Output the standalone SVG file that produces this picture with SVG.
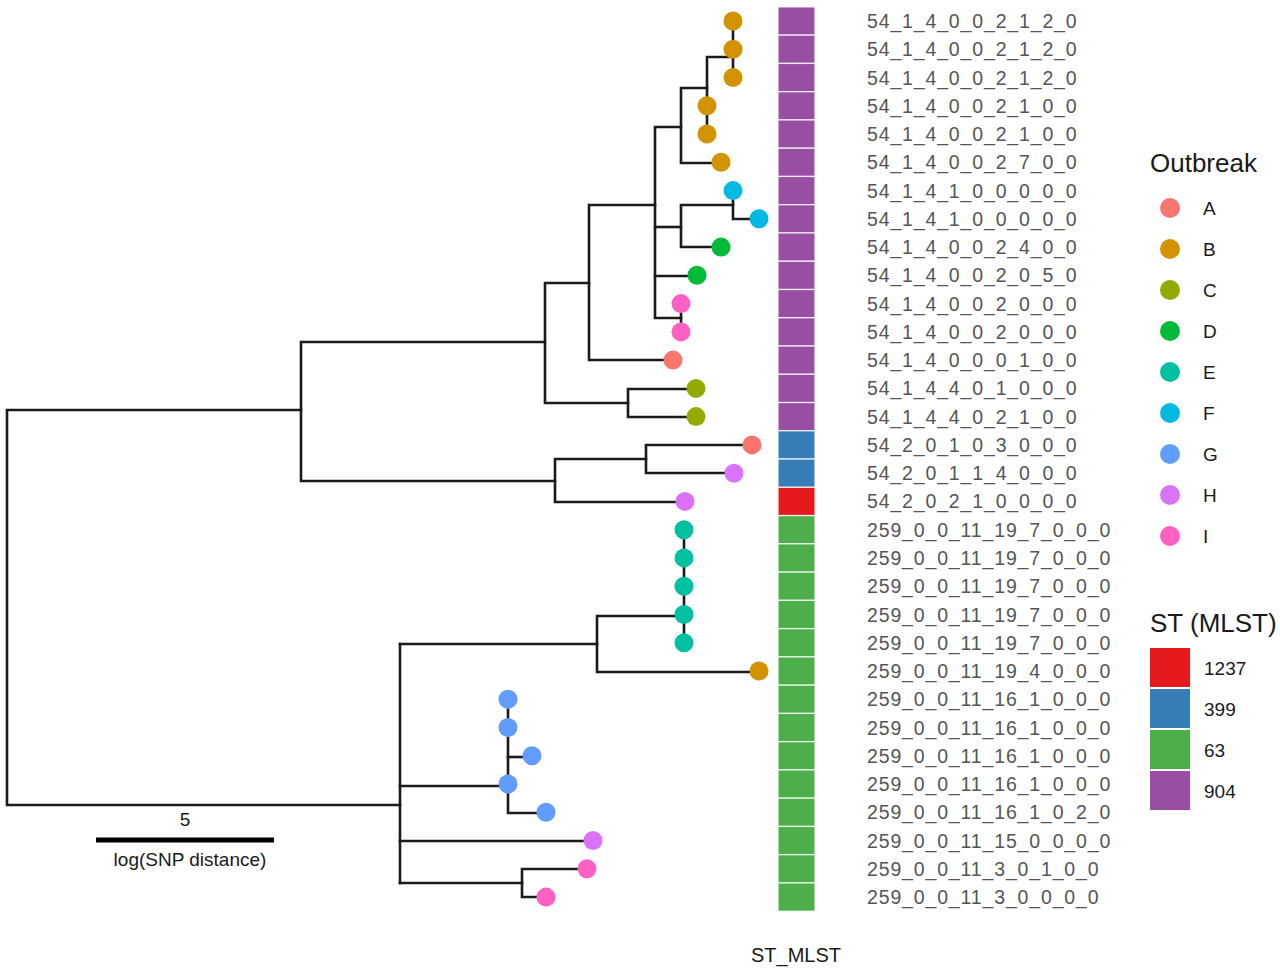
<svg xmlns="http://www.w3.org/2000/svg" width="1280" height="970" viewBox="0 0 1280 970">
<style>
.br{fill:none;stroke:#1a1a1a;stroke-width:2.6;stroke-linecap:square}
.lab{font-family:"Liberation Sans",Arial,sans-serif;font-size:19.5px;fill:#555;letter-spacing:0.85px}
.lg{font-family:"Liberation Sans",Arial,sans-serif;font-size:19px;fill:#1a1a1a}
.lt{font-family:"Liberation Sans",Arial,sans-serif;font-size:26px;fill:#1a1a1a}
.A{fill:#F8766D}.B{fill:#D39200}.C{fill:#93AA00}.D{fill:#00BA38}.E{fill:#00C19F}.F{fill:#00B9E3}.G{fill:#619CFF}.H{fill:#DB72FB}.I{fill:#FF61C3}
.t{stroke:#fff;stroke-width:1.3;stroke-opacity:0.8}
.p{fill:#984EA3}.bl{fill:#377EB8}.r{fill:#E41A1C}.g{fill:#4DAF4A}
</style>
<rect width="1280" height="970" fill="#fff"/>
<g id="connectors">
<path class="br" d="M301,410 H7 V805 H400"/>
<path class="br" d="M545,342 H301 V481 H555"/>
<path class="br" d="M589,283 H545 V403 H628"/>
<path class="br" d="M655,205 H589 V360 H673"/>
<path class="br" d="M681,127 H655 V318 H681"/>
<path class="br" d="M655,227 H681"/>
<path class="br" d="M655,276 H697"/>
<path class="br" d="M707,88 H681 V163 H721"/>
<path class="br" d="M733,57 H707 V134"/>
<path class="br" d="M733,21 V78"/>
<path class="br" d="M733,205 H681 V247 H721"/>
<path class="br" d="M733,191 V219 H759"/>
<path class="br" d="M681,304 V332"/>
<path class="br" d="M696,389 H628 V417 H696"/>
<path class="br" d="M646,459 H555 V502 H685"/>
<path class="br" d="M752,445 H646 V473 H734"/>
<path class="br" d="M400,644 V883"/>
<path class="br" d="M400,644 H597"/>
<path class="br" d="M400,786 H508"/>
<path class="br" d="M400,841 H593"/>
<path class="br" d="M400,883 H522"/>
<path class="br" d="M684,616 H597 V672 H759"/>
<path class="br" d="M684,530 V643"/>
<path class="br" d="M508,700 V813 H546"/>
<path class="br" d="M508,757 H532"/>
<path class="br" d="M587,869 H522 V897 H546"/>
</g>
<g id="tips">
<g id="tip1"><circle class="B" cx="733" cy="21" r="9.5"/></g>
<g id="tip2"><circle class="B" cx="733" cy="49.3" r="9.5"/></g>
<g id="tip3"><circle class="B" cx="733" cy="77.5" r="9.5"/></g>
<g id="tip4"><circle class="B" cx="707" cy="105.8" r="9.5"/></g>
<g id="tip5"><circle class="B" cx="707" cy="134" r="9.5"/></g>
<g id="tip6"><circle class="B" cx="721" cy="162.3" r="9.5"/></g>
<g id="tip7"><circle class="F" cx="733" cy="190.6" r="9.5"/></g>
<g id="tip8"><circle class="F" cx="759" cy="218.8" r="9.5"/></g>
<g id="tip9"><circle class="D" cx="721" cy="247.1" r="9.5"/></g>
<g id="tip10"><circle class="D" cx="697" cy="275.3" r="9.5"/></g>
<g id="tip11"><circle class="I" cx="681" cy="303.6" r="9.5"/></g>
<g id="tip12"><circle class="I" cx="681" cy="331.9" r="9.5"/></g>
<g id="tip13"><circle class="A" cx="673" cy="360.1" r="9.5"/></g>
<g id="tip14"><circle class="C" cx="696" cy="388.4" r="9.5"/></g>
<g id="tip15"><circle class="C" cx="696" cy="416.6" r="9.5"/></g>
<g id="tip16"><circle class="A" cx="752" cy="444.9" r="9.5"/></g>
<g id="tip17"><circle class="H" cx="734" cy="473.2" r="9.5"/></g>
<g id="tip18"><circle class="H" cx="685" cy="501.4" r="9.5"/></g>
<g id="tip19"><circle class="E" cx="684" cy="529.7" r="9.5"/></g>
<g id="tip20"><circle class="E" cx="684" cy="557.9" r="9.5"/></g>
<g id="tip21"><circle class="E" cx="684" cy="586.2" r="9.5"/></g>
<g id="tip22"><circle class="E" cx="684" cy="614.5" r="9.5"/></g>
<g id="tip23"><circle class="E" cx="684" cy="642.7" r="9.5"/></g>
<g id="tip24"><circle class="B" cx="759" cy="671" r="9.5"/></g>
<g id="tip25"><circle class="G" cx="508" cy="699.2" r="9.5"/></g>
<g id="tip26"><circle class="G" cx="508" cy="727.5" r="9.5"/></g>
<g id="tip27"><circle class="G" cx="532" cy="755.8" r="9.5"/></g>
<g id="tip28"><circle class="G" cx="508" cy="784" r="9.5"/></g>
<g id="tip29"><circle class="G" cx="546" cy="812.3" r="9.5"/></g>
<g id="tip30"><circle class="H" cx="593" cy="840.5" r="9.5"/></g>
<g id="tip31"><circle class="I" cx="587" cy="868.8" r="9.5"/></g>
<g id="tip32"><circle class="I" cx="546" cy="897.1" r="9.5"/></g>
</g>
<g id="tiles">
<rect class="p t" x="778" y="6.9" width="37" height="28.26"/>
<rect class="p t" x="778" y="35.16" width="37" height="28.26"/>
<rect class="p t" x="778" y="63.42" width="37" height="28.26"/>
<rect class="p t" x="778" y="91.68" width="37" height="28.26"/>
<rect class="p t" x="778" y="119.94" width="37" height="28.26"/>
<rect class="p t" x="778" y="148.2" width="37" height="28.26"/>
<rect class="p t" x="778" y="176.46" width="37" height="28.26"/>
<rect class="p t" x="778" y="204.72" width="37" height="28.26"/>
<rect class="p t" x="778" y="232.98" width="37" height="28.26"/>
<rect class="p t" x="778" y="261.24" width="37" height="28.26"/>
<rect class="p t" x="778" y="289.5" width="37" height="28.26"/>
<rect class="p t" x="778" y="317.76" width="37" height="28.26"/>
<rect class="p t" x="778" y="346.02" width="37" height="28.26"/>
<rect class="p t" x="778" y="374.28" width="37" height="28.26"/>
<rect class="p t" x="778" y="402.54" width="37" height="28.26"/>
<rect class="bl t" x="778" y="430.8" width="37" height="28.26"/>
<rect class="bl t" x="778" y="459.06" width="37" height="28.26"/>
<rect class="r t" x="778" y="487.32" width="37" height="28.26"/>
<rect class="g t" x="778" y="515.58" width="37" height="28.26"/>
<rect class="g t" x="778" y="543.84" width="37" height="28.26"/>
<rect class="g t" x="778" y="572.1" width="37" height="28.26"/>
<rect class="g t" x="778" y="600.36" width="37" height="28.26"/>
<rect class="g t" x="778" y="628.62" width="37" height="28.26"/>
<rect class="g t" x="778" y="656.88" width="37" height="28.26"/>
<rect class="g t" x="778" y="685.14" width="37" height="28.26"/>
<rect class="g t" x="778" y="713.4" width="37" height="28.26"/>
<rect class="g t" x="778" y="741.66" width="37" height="28.26"/>
<rect class="g t" x="778" y="769.92" width="37" height="28.26"/>
<rect class="g t" x="778" y="798.18" width="37" height="28.26"/>
<rect class="g t" x="778" y="826.44" width="37" height="28.26"/>
<rect class="g t" x="778" y="854.7" width="37" height="28.26"/>
<rect class="g t" x="778" y="882.96" width="37" height="28.26"/>
</g>
<g id="labels">
<text class="lab" x="867" y="28">54_1_4_0_0_2_1_2_0</text>
<text class="lab" x="867" y="56.3">54_1_4_0_0_2_1_2_0</text>
<text class="lab" x="867" y="84.5">54_1_4_0_0_2_1_2_0</text>
<text class="lab" x="867" y="112.8">54_1_4_0_0_2_1_0_0</text>
<text class="lab" x="867" y="141">54_1_4_0_0_2_1_0_0</text>
<text class="lab" x="867" y="169.3">54_1_4_0_0_2_7_0_0</text>
<text class="lab" x="867" y="197.6">54_1_4_1_0_0_0_0_0</text>
<text class="lab" x="867" y="225.8">54_1_4_1_0_0_0_0_0</text>
<text class="lab" x="867" y="254.1">54_1_4_0_0_2_4_0_0</text>
<text class="lab" x="867" y="282.3">54_1_4_0_0_2_0_5_0</text>
<text class="lab" x="867" y="310.6">54_1_4_0_0_2_0_0_0</text>
<text class="lab" x="867" y="338.9">54_1_4_0_0_2_0_0_0</text>
<text class="lab" x="867" y="367.1">54_1_4_0_0_0_1_0_0</text>
<text class="lab" x="867" y="395.4">54_1_4_4_0_1_0_0_0</text>
<text class="lab" x="867" y="423.6">54_1_4_4_0_2_1_0_0</text>
<text class="lab" x="867" y="451.9">54_2_0_1_0_3_0_0_0</text>
<text class="lab" x="867" y="480.2">54_2_0_1_1_4_0_0_0</text>
<text class="lab" x="867" y="508.4">54_2_0_2_1_0_0_0_0</text>
<text class="lab" x="867" y="536.7">259_0_0_11_19_7_0_0_0</text>
<text class="lab" x="867" y="564.9">259_0_0_11_19_7_0_0_0</text>
<text class="lab" x="867" y="593.2">259_0_0_11_19_7_0_0_0</text>
<text class="lab" x="867" y="621.5">259_0_0_11_19_7_0_0_0</text>
<text class="lab" x="867" y="649.7">259_0_0_11_19_7_0_0_0</text>
<text class="lab" x="867" y="678">259_0_0_11_19_4_0_0_0</text>
<text class="lab" x="867" y="706.2">259_0_0_11_16_1_0_0_0</text>
<text class="lab" x="867" y="734.5">259_0_0_11_16_1_0_0_0</text>
<text class="lab" x="867" y="762.8">259_0_0_11_16_1_0_0_0</text>
<text class="lab" x="867" y="791">259_0_0_11_16_1_0_0_0</text>
<text class="lab" x="867" y="819.3">259_0_0_11_16_1_0_2_0</text>
<text class="lab" x="867" y="847.5">259_0_0_11_15_0_0_0_0</text>
<text class="lab" x="867" y="875.8">259_0_0_11_3_0_1_0_0</text>
<text class="lab" x="867" y="904.1">259_0_0_11_3_0_0_0_0</text>
</g>
<g id="scalebar">
<rect x="96" y="837.5" width="178" height="5" fill="#000"/>
<text x="185" y="826" text-anchor="middle" font-family="Liberation Sans,Arial,sans-serif" font-size="19" fill="#1a1a1a">5</text>
<text x="190" y="866" text-anchor="middle" font-family="Liberation Sans,Arial,sans-serif" font-size="19" fill="#1a1a1a">log(SNP distance)</text>
</g>
<g id="axis-title">
<text x="796" y="962" text-anchor="middle" font-family="Liberation Sans,Arial,sans-serif" font-size="20" fill="#1a1a1a">ST_MLST</text>
</g>
<g id="legend-outbreak">
<text class="lt" x="1150" y="172">Outbreak</text>
<circle class="A" cx="1170" cy="208" r="10"/><text class="lg" x="1203" y="215">A</text>
<circle class="B" cx="1170" cy="249" r="10"/><text class="lg" x="1203" y="256">B</text>
<circle class="C" cx="1170" cy="290" r="10"/><text class="lg" x="1203" y="297">C</text>
<circle class="D" cx="1170" cy="331" r="10"/><text class="lg" x="1203" y="338">D</text>
<circle class="E" cx="1170" cy="372" r="10"/><text class="lg" x="1203" y="379">E</text>
<circle class="F" cx="1170" cy="413" r="10"/><text class="lg" x="1203" y="420">F</text>
<circle class="G" cx="1170" cy="454" r="10"/><text class="lg" x="1203" y="461">G</text>
<circle class="H" cx="1170" cy="495" r="10"/><text class="lg" x="1203" y="502">H</text>
<circle class="I" cx="1170" cy="536" r="10"/><text class="lg" x="1203" y="543">I</text>
</g>
<g id="legend-st">
<text class="lt" x="1150" y="632">ST (MLST)</text>
<rect class="r" x="1150" y="648" width="40" height="39"/><text class="lg" x="1204" y="675">1237</text>
<rect class="bl" x="1150" y="689" width="40" height="39"/><text class="lg" x="1204" y="716">399</text>
<rect class="g" x="1150" y="730" width="40" height="39"/><text class="lg" x="1204" y="757">63</text>
<rect class="p" x="1150" y="771" width="40" height="39"/><text class="lg" x="1204" y="798">904</text>
</g>
</svg>
